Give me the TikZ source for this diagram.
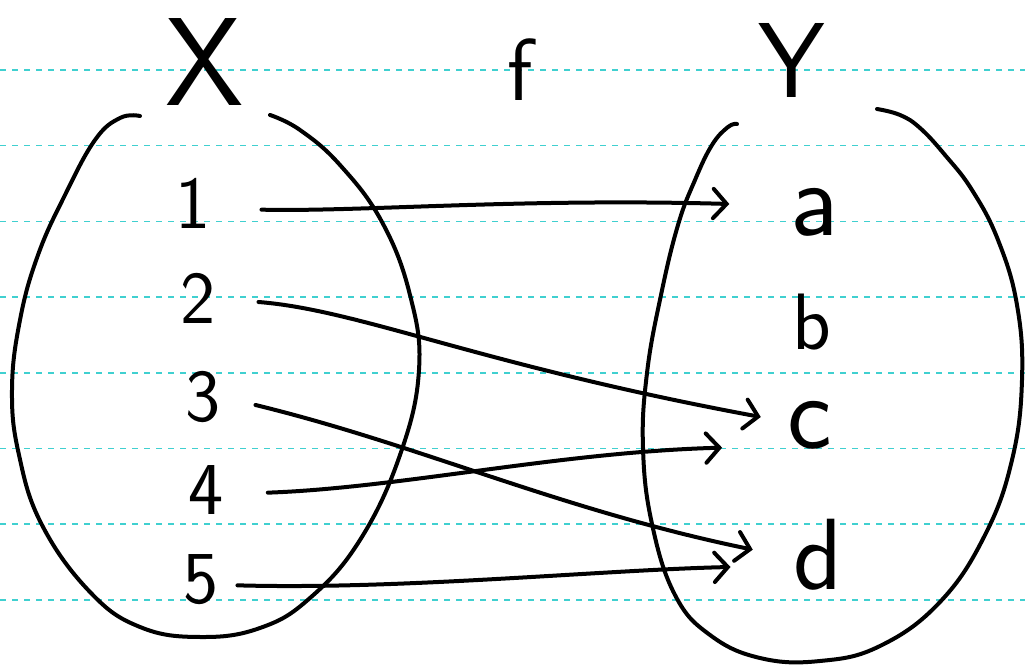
\documentclass[tikz,border=0pt]{standalone}
\usetikzlibrary{arrows.meta}
\definecolor{ruleblue}{RGB}{64,208,208}
\begin{document}
\begin{tikzpicture}[x=0.75pt,y=-0.75pt,
  ink/.style={line width=3pt,line cap=round,line join=round},
  rulerline/.style={draw=ruleblue,line width=1.2pt,dash pattern=on 4.5pt off 4.5pt},
  conn/.style={ink,-{Straight Barb[length=10pt,width=22pt,line cap=round]}},
  digit/.style={font=\sffamily\fontsize{56}{64}\selectfont,inner sep=0pt},
  letter/.style={font=\sffamily\fontsize{#1}{#1}\selectfont,inner sep=0pt},
  big/.style={font=\sffamily\fontsize{#1}{#1}\selectfont,inner sep=0pt}]
\useasboundingbox (0,0) rectangle (1025,666);
\foreach \k in {0,...,7} \draw[rulerline] (0,{70+75.7*\k}) -- (1025,{70+75.7*\k});
% sets
\draw[ink] plot[smooth,tension=0.7] coordinates {(140,116) (120,118) (95,140) (65,195) (38,255) (20,320) (12,390) (19,455) (42,525) (90,592) (140,627) (200,637) (260,628) (310,598) (360,540) (400,455) (419,370) (410,295) (382,222) (340,165) (300,130) (270,115)};
\draw[ink] plot[smooth,tension=0.7] coordinates {(737,124) (728,127) (712,145) (695,180) (678,225) (661,295) (647,373) (643,448) (652,524) (675,595) (710,635) (760,658) (820,661) (880,646) (940,602) (985,535) (1012,460) (1022,380) (1017,305) (998,240) (972,190) (945,155) (920,128) (900,115) (877,109)};
% labels
\node[big=94] (X) at (205,62) {X};
\node[letter=66] (f) at (520,70) {f};
\node[big=80] (Y) at (792,60) {Y};
\node[digit] (n1) at (193,203) {1};
\node[digit] (n2) at (198,298) {2};
\node[digit] (n3) at (203,397) {3};
\node[digit] (n4) at (206,490) {4};
\node[digit] (n5) at (201,580) {5};
\node[letter=80] (a) at (815,212) {a};
\node[letter=60] (b) at (812,322) {b};
\node[letter=80] (c) at (810,425) {c};
\node[letter=76] (d) at (818,555) {d};
% mapping
\draw[conn] ([xshift=38pt,yshift=-5pt]n1.east) .. controls (360,212) and (520,198) .. ([xshift=-46pt,yshift=6pt]a.west);
\draw[conn] ([xshift=32pt,yshift=-3pt]n2.east) .. controls (360,310) and (480,365) .. ([xshift=-20pt,yshift=6pt]c.west);
\draw[conn] ([xshift=26pt,yshift=-6pt]n3.east) .. controls (420,445) and (560,510) .. ([xshift=-26pt,yshift=4pt]c.west |- d.west);
\draw[conn] ([xshift=33pt,yshift=-2pt]n4.east) .. controls (400,488) and (560,452) .. ([xshift=-49pt,yshift=-17pt]c.west);
\draw[conn] ([xshift=14pt,yshift=-4pt]n5.east) .. controls (400,590) and (600,570) .. ([xshift=-47pt,yshift=-9pt]d.west);
\end{tikzpicture}
\end{document}
